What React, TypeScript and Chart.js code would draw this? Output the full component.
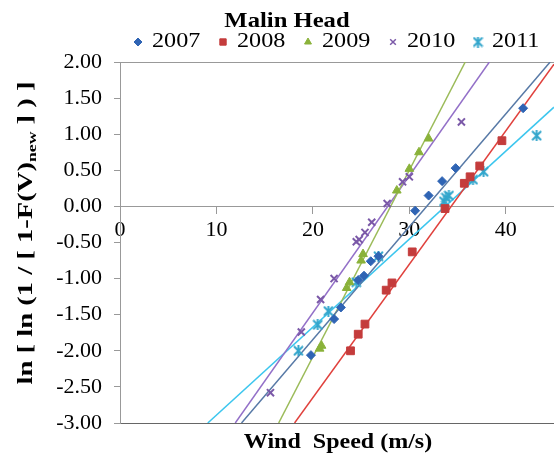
import React, { useEffect, useRef } from 'react';
import { Chart, registerables, PointElement } from 'chart.js';

Chart.register(...registerables);

const FONT = '"Liberation Serif", "Times New Roman", serif';

const chartTitle = 'Malin Head';
const xAxisTitle = 'Wind  Speed (m/s)';
const yTitleMain = 'ln [ ln (1 / [ 1-F(V)';
const yTitleSub = 'new';
const yTitleTail = ' ] ) ]';

const seriesNames = ['2007', '2008', '2009', '2010', '2011'];

const xTicks = [0, 10, 20, 30, 40];
const yTicks = [2, 1.5, 1, 0.5, 0, -0.5, -1, -1.5, -2, -2.5, -3];

const x2007 = [19.8, 22.2, 22.9, 24.7, 25.3, 26.0, 26.8, 30.6, 32.0, 33.4, 34.8, 41.8];
const y2007 = [-2.06, -1.56, -1.4, -1.02, -0.96, -0.76, -0.69, -0.06, 0.15, 0.35, 0.53, 1.36];
const x2008 = [23.9, 24.7, 25.4, 27.6, 28.2, 30.3, 33.7, 35.7, 36.3, 37.3, 39.6];
const y2008 = [-2.0, -1.77, -1.63, -1.16, -1.06, -0.63, -0.03, 0.32, 0.41, 0.56, 0.91];
const x2009 = [20.7, 20.9, 23.5, 23.8, 25.0, 25.2, 28.7, 30.0, 31.0, 32.0];
const y2009 = [-1.97, -1.93, -1.13, -1.05, -0.75, -0.66, 0.22, 0.52, 0.75, 0.94];
const x2010 = [15.6, 18.8, 20.8, 22.2, 24.5, 24.8, 25.4, 26.1, 27.7, 29.3, 30.0, 35.4];
const y2010 = [-2.58, -1.74, -1.29, -1.0, -0.49, -0.46, -0.36, -0.22, 0.04, 0.34, 0.41, 1.17];
const x2011 = [18.5, 20.5, 21.6, 24.5, 26.8, 33.6, 33.8, 34.1, 36.6, 37.7, 43.2];
const y2011 = [-2.0, -1.64, -1.45, -1.05, -0.69, 0.07, 0.12, 0.15, 0.37, 0.48, 0.98];

// trend lines (end points)
const trendX2007 = [12.6, 44.6];
const trendY2007 = [-3, 2];
const trendX2008 = [18.1, 45];
const trendY2008 = [-3, 1.97];
const trendX2009 = [16.45, 35.8];
const trendY2009 = [-3, 2];
const trendX2010 = [11.95, 38.3];
const trendY2010 = [-3, 2];
const trendX2011 = [9.1, 45];
const trendY2011 = [-3, 1.375];

const markerColors = ['#2f64b4', '#c43c3c', '#8ab23a', '#7b59a8', '#33a6cc'];
const lineColors = ['#5779a6', '#e0403c', '#9bbb59', '#9370c8', '#3cc6ee'];

const toPts = (xs: number[], ys: number[]) => xs.map((x, i) => ({ x, y: ys[i] }));

function makeStar(color: string, size: number) {
  const c = document.createElement('canvas');
  c.width = size;
  c.height = size;
  const g = c.getContext('2d')!;
  g.strokeStyle = color;
  g.lineWidth = 2;
  g.beginPath();
  g.moveTo(1, 1);
  g.lineTo(size - 1, size - 1);
  g.moveTo(size - 1, 1);
  g.lineTo(1, size - 1);
  g.moveTo(size / 2, 0);
  g.lineTo(size / 2, size);
  g.stroke();
  return c;
}

function drawScaled(ctx: CanvasRenderingContext2D, text: string, x: number, y: number, font: string, align: CanvasTextAlign, sx: number) {
  ctx.save();
  ctx.translate(x, y);
  ctx.scale(sx, 1);
  ctx.font = font;
  ctx.textAlign = align;
  ctx.textBaseline = 'middle';
  ctx.fillText(text, 0, 0);
  ctx.restore();
}

export default function App() {
  const ref = useRef<HTMLCanvasElement | null>(null);

  useEffect(() => {
    document.body.style.margin = '0';
    const canvas = ref.current;
    if (!canvas) return;

    const star = makeStar(markerColors[4], 11);
    const styles: any[] = ['rectRot', 'rect', 'triangle', 'crossRot', star];
    const radii = [4.5, 5.5, 5, 5, 5];
    const borderWidths = [1, 1, 1, 2, 2];
    const pointSets = [
      toPts(x2007, y2007),
      toPts(x2008, y2008),
      toPts(x2009, y2009),
      toPts(x2010, y2010),
      toPts(x2011, y2011),
    ];
    const trendSets = [
      toPts(trendX2007, trendY2007),
      toPts(trendX2008, trendY2008),
      toPts(trendX2009, trendY2009),
      toPts(trendX2010, trendY2010),
      toPts(trendX2011, trendY2011),
    ];

    const pointDatasets = pointSets.map((data, i) => ({
      label: seriesNames[i],
      data,
      showLine: false,
      pointStyle: styles[i],
      pointRadius: radii[i],
      pointBorderWidth: borderWidths[i],
      pointBackgroundColor: markerColors[i],
      pointBorderColor: markerColors[i],
    }));
    const lineDatasets = trendSets.map((data, i) => ({
      label: seriesNames[i] + ' trend',
      data,
      showLine: true,
      pointRadius: 0,
      borderColor: lineColors[i],
      borderWidth: 1.5,
      fill: false,
    }));

    const textPlugin = {
      id: 'textPlugin',
      afterDraw(chart: any) {
        const ctx: CanvasRenderingContext2D = chart.ctx;
        const ca = chart.chartArea;
        ctx.save();
        ctx.fillStyle = '#000';
        // title
        drawScaled(ctx, chartTitle, 287, 21, 'bold 22px ' + FONT, 'center', 1.12);
        // legend
        let lx = 134;
        const area = { left: 0, top: 0, right: chart.width, bottom: chart.height };
        seriesNames.forEach((name, i) => {
          const pe: any = new (PointElement as any)({
            x: lx + 4,
            y: 42,
            options: {
              pointStyle: styles[i],
              radius: i === 1 ? 4.5 : 4,
              rotation: 0,
              borderWidth: borderWidths[i] === 2 ? 1.5 : 1,
              backgroundColor: markerColors[i],
              borderColor: markerColors[i],
            },
          });
          pe.draw(ctx, area);
          ctx.fillStyle = '#000';
          drawScaled(ctx, name, lx + 18, 41, '21px ' + FONT, 'left', 1.15);
          lx += 85;
        });
        // x axis title
        drawScaled(ctx, xAxisTitle, (ca.left + ca.right) / 2 + 1, 443, 'bold 20px ' + FONT, 'center', 1.2);
        // y axis title with subscript
        ctx.save();
        ctx.translate(27, 233);
        ctx.rotate(-Math.PI / 2);
        const fMain = 'bold 21px ' + FONT;
        const fSub = 'bold 13px ' + FONT;
        ctx.font = fMain;
        const wMain = ctx.measureText(yTitleMain).width;
        const wTail = ctx.measureText(yTitleTail).width;
        ctx.font = fSub;
        const wSub = ctx.measureText(yTitleSub).width;
        const total = wMain + wSub + wTail;
        const sx = 303 / total;
        ctx.scale(sx, 1);
        ctx.textBaseline = 'middle';
        ctx.textAlign = 'left';
        let cx = -total / 2;
        ctx.font = fMain;
        ctx.fillText(yTitleMain, cx, 0);
        cx += wMain;
        ctx.font = fSub;
        ctx.fillText(yTitleSub, cx, 6);
        cx += wSub;
        ctx.font = fMain;
        ctx.fillText(yTitleTail, cx, 0);
        ctx.restore();
        ctx.restore();
      },
    };

    const chart = new Chart(canvas, {
      type: 'scatter',
      data: { datasets: [...pointDatasets, ...lineDatasets] as any },
      options: {
        animation: false,
        responsive: true,
        maintainAspectRatio: false,
        layout: { autoPadding: false, padding: { top: 62, bottom: 32, left: 0, right: 0 } },
        plugins: {
          legend: { display: false },
          title: { display: false },
          tooltip: { enabled: false },
        },
        scales: {
          x: {
            type: 'linear',
            position: { y: 0 } as any,
            min: 0,
            max: 45,
            afterBuildTicks: (s: any) => {
              s.ticks = xTicks.map((v) => ({ value: v }));
            },
            afterFit: (s: any) => {
              s.paddingLeft = 0;
              s.paddingRight = 0;
            },
            grid: { drawOnChartArea: false, drawTicks: true, tickLength: 7, tickColor: '#999' },
            border: { color: '#999', width: 1 },
            ticks: {
              color: '#000',
              font: { size: 22, family: FONT },
              padding: 4,
              maxRotation: 0,
              autoSkip: false,
            },
          },
          y: {
            type: 'linear',
            min: -3,
            max: 2,
            afterBuildTicks: (s: any) => {
              s.ticks = yTicks.map((v) => ({ value: v }));
            },
            afterFit: (s: any) => {
              s.width = 120;
            },
            grid: {
              color: (c: any) => {
                const v = c.tick ? c.tick.value : null;
                if (v === 2) return '#999';
                if (v === -3) return '#666';
                return 'rgba(0,0,0,0)';
              },
              tickColor: '#999',
              tickLength: 6,
              drawTicks: true,
            },
            border: { color: '#999', width: 1 },
            ticks: {
              color: '#000',
              font: { size: 22, family: FONT },
              padding: 12,
              callback: (v: any) => Number(v).toFixed(2),
            },
          },
        },
      },
      plugins: [textPlugin],
    });

    return () => chart.destroy();
  }, []);

  return (
    <div style={{ position: 'relative', width: '554px', height: '455px' }}>
      <canvas ref={ref} />
    </div>
  );
}
